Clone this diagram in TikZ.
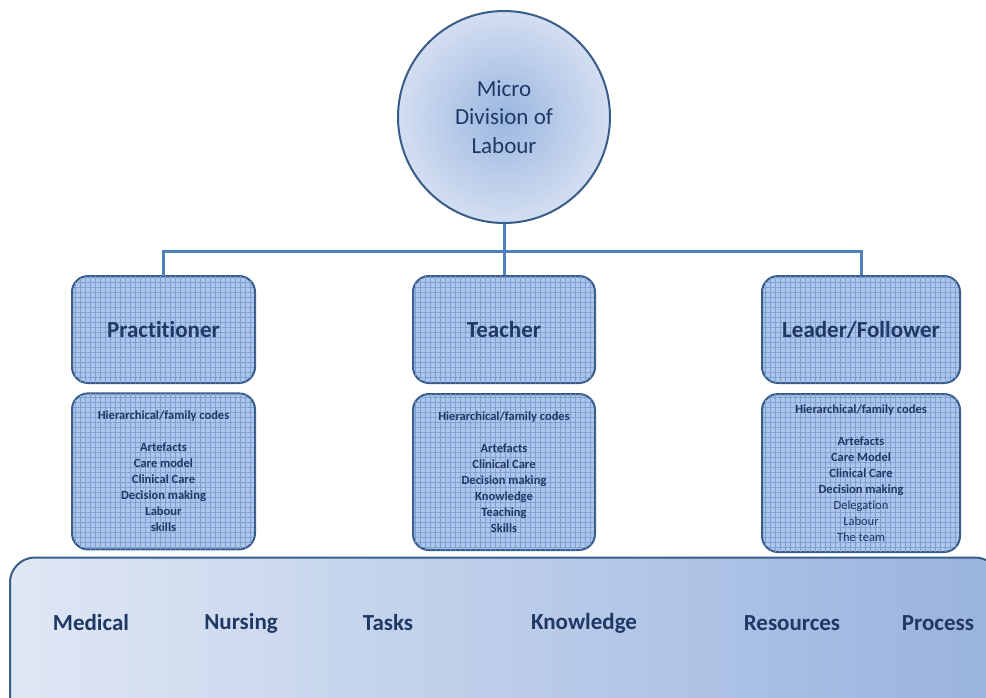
\documentclass[tikz,border=0pt]{standalone}
\usepackage{fontspec}
\setmainfont{Carlito}[Ligatures=CommonOff]
\usetikzlibrary{positioning,patterns.meta}

\definecolor{navy}{HTML}{1F3864}
\definecolor{edgeblue}{HTML}{385D8A}
\definecolor{linkblue}{HTML}{4F81BD}
\definecolor{boxfill}{HTML}{AEC6EA}
\definecolor{boxgrid}{HTML}{7C9FD4}
\definecolor{rimblue}{HTML}{D3DEF1}
\definecolor{coreblue}{HTML}{9BB7E0}
\definecolor{bandleft}{HTML}{DFE7F4}
\definecolor{bandright}{HTML}{98B3DF}

\begin{document}
\begin{tikzpicture}[x=1pt,y=-1pt,
    role/.style={draw=edgeblue,line width=2pt,rounded corners=16pt,
      preaction={fill=boxfill},
      pattern={Lines[distance=5pt,line width=.8pt,angle=0]},pattern color=boxgrid,
      postaction={pattern={Lines[distance=5pt,line width=.8pt,angle=90]},pattern color=boxgrid},
      text=navy,font=\fontsize{23}{28}\selectfont\bfseries,
      minimum height=107pt,inner sep=0pt},
    codes/.style={role,font=\fontsize{12.5}{16}\selectfont\bfseries,
      minimum height=156pt,align=center},
    link/.style={draw=linkblue,line width=3pt},
    theme/.style={text=navy,font=\fontsize{23}{28}\selectfont\bfseries}]
  \useasboundingbox (0,0) rectangle (986,697);
  \clip (0,0) rectangle (986,697);

  % base band
  \node[draw=edgeblue,line width=2pt,rounded corners=25pt,
        left color=bandleft,right color=bandright,
        minimum width=990pt,minimum height=175pt,inner sep=0pt] (B) at (505,645) {};
  \node[theme] (med) at (91,623)  {Medical};
  \node[theme] (nur) at (241,623) {Nursing};
  \node[theme] (tas) at (388,623) {Tasks};
  \node[theme] (kno) at (584,623) {Knowledge};
  \node[theme] (res) at (792,623) {Resources};
  \node[theme] (pro) at (938,623) {Process};

  % top of the tree
  \node[circle,draw=edgeblue,line width=2pt,inner color=coreblue,outer color=rimblue,
        minimum size=212pt,inner sep=0pt,text=navy,align=center,
        font=\fontsize{23}{28.5}\selectfont] (M) at (504,117) {Micro\\Division of\\Labour};

  \node[role,minimum width=183pt] (P) at (163.5,329.5) {Practitioner};
  \node[role,minimum width=182pt] (T) at (504,329.5)   {Teacher};
  \node[role,minimum width=198pt] (L) at (861,329.5)   {Leader/Follower};

  \node[codes,minimum width=183pt,below=9pt of P] (P2)
    {Hierarchical/family codes\\[16pt]Artefacts\\Care model\\Clinical Care\\Decision making\\Labour\\skills};
  \node[codes,minimum width=182pt,below=9pt of T] (T2)
    {Hierarchical/family codes\\[16pt]Artefacts\\Clinical Care\\Decision making\\Knowledge\\Teaching\\Skills};
  \node[codes,minimum width=198pt,minimum height=158pt,below=9pt of L] (L2)
    {Hierarchical/family codes\\[16pt]Artefacts\\Care Model\\Clinical Care\\Decision making\\
     {\mdseries Delegation}\\{\mdseries Labour}\\{\mdseries The team}};

  \path (M.south) ++(0,27) coordinate (J);
  \draw[link] (M.south) -- (J);
  \draw[link] (P.north) |- (J) -| (L.north);
  \draw[link] (J) -- (T.north);
\end{tikzpicture}
\end{document}
